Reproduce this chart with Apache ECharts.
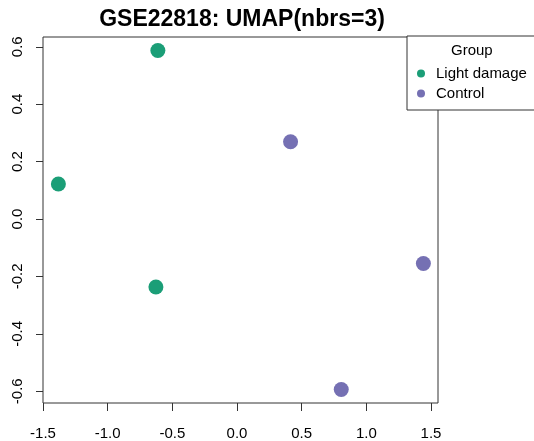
<!DOCTYPE html>
<html>
<head>
<meta charset="utf-8">
<script src="https://cdn.jsdelivr.net/npm/echarts@6/dist/echarts.min.js"></script>
<style>
  html, body { margin: 0; padding: 0; background: #fff; }
  #chart { width: 534px; height: 441px; }
</style>
</head>
<body>
<div id="chart"></div>
<script>
// UMAP coordinates
const groups = ['Light damage', 'Control'];
const groupColors = ['#1B9E77', '#7570B3'];
const lightDamage = [[-0.612, 0.587], [-1.381, 0.122], [-0.627, -0.237]];
const control = [[0.414, 0.269], [1.441, -0.155], [0.806, -0.594]];
const xTicks = [-1.5, -1.0, -0.5, 0.0, 0.5, 1.0, 1.5];
const yTicks = [-0.6, -0.4, -0.2, 0.0, 0.2, 0.4, 0.6];

const chart = echarts.init(document.getElementById('chart'));
const font = 'Liberation Sans, Arial, sans-serif';

const option = {
    animation: false,
    title: {
        text: 'GSE22818: UMAP(nbrs=3)',
        left: 237,
        top: 3,
        textAlign: 'center',
        textStyle: { fontFamily: font, fontSize: 23, fontWeight: 'bold', color: '#000' }
    },
    grid: {
        left: 43, right: 96, top: 37, bottom: 38,
        show: true, borderColor: '#333', borderWidth: 1, backgroundColor: '#fff'
    },
    xAxis: {
        type: 'value',
        min: -1.5,
        max: 1.554,
        splitLine: { show: false },
        axisLine: { show: false, onZero: false },
        axisTick: { show: true, length: 8, customValues: xTicks, lineStyle: { color: '#333' } },
        axisLabel: {
            margin: 23,
            customValues: xTicks,
            fontFamily: font, fontSize: 15, color: '#000',
            formatter: v => v.toFixed(1)
        }
    },
    yAxis: {
        type: 'value',
        min: -0.641,
        max: 0.634,
        splitLine: { show: false },
        axisLine: { show: false, onZero: false },
        axisTick: { show: true, length: 7, customValues: yTicks, lineStyle: { color: '#333' } },
        axisLabel: {
            margin: 18,
            rotate: 90,
            customValues: yTicks,
            fontFamily: font, fontSize: 15, color: '#000',
            formatter: v => v.toFixed(1)
        }
    },
    legend: {
        orient: 'vertical',
        left: 407,
        top: 36,
        padding: [30, 12, 9, 10],
        itemGap: 5,
        itemWidth: 8,
        itemHeight: 8,
        borderColor: '#333',
        borderWidth: 1,
        borderRadius: 0,
        backgroundColor: '#fff',
        textStyle: { fontFamily: font, fontSize: 15, color: '#000', padding: [0, 0, 0, 6] },
        data: groups.map((g, i) => ({ name: g, icon: 'circle', itemStyle: { color: groupColors[i] } }))
    },
    graphic: [{
        type: 'text',
        left: 451,
        top: 43,
        z: 100,
        style: { text: 'Group', fontFamily: font, fontSize: 15, fill: '#000' }
    }],
    series: [
        {
            name: groups[0], type: 'scatter', data: lightDamage, symbolSize: 15,
            itemStyle: { color: groupColors[0], opacity: 1 }
        },
        {
            name: groups[1], type: 'scatter', data: control, symbolSize: 15,
            itemStyle: { color: groupColors[1], opacity: 1 }
        }
    ]
};

chart.setOption(option);
</script>
</body>
</html>
